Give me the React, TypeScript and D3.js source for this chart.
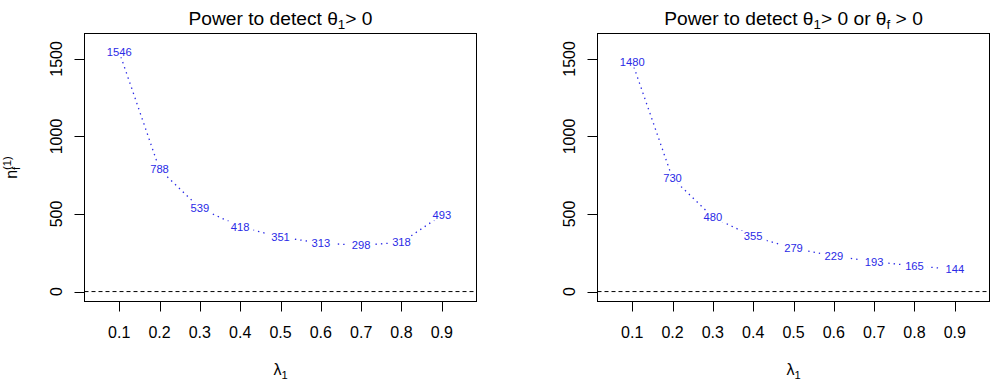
import React from 'react';
import * as d3 from 'd3';

const lambdas = [0.1, 0.2, 0.3, 0.4, 0.5, 0.6, 0.7, 0.8, 0.9];
const nTheta1 = [1546, 788, 539, 418, 351, 313, 298, 318, 493];
const nThetaAny = [1480, 730, 480, 355, 279, 229, 193, 165, 144];
const yTicks = [0, 500, 1000, 1500];

const W = 993;
const H = 388;
const FONT = '"Liberation Sans", Arial, sans-serif';
const BLUE = '#2a2ae6';
const PLOT_TOP = 33.5;
const PLOT_BOTTOM = 301.5;

// ylim = c(0, 1600), xlim = c(0.05, 0.95) with the usual 4% padding
const yScale = d3.scaleLinear().domain([-64, 1664]).range([PLOT_BOTTOM, PLOT_TOP]);

type PanelProps = {
  id: string;
  left: number;
  right: number;
  values: number[];
  title: React.ReactNode;
  yLabel?: boolean;
};

const Panel = ({ id, left, right, values, title, yLabel }: PanelProps) => {
  const xScale = d3.scaleLinear().domain([0.014, 0.986]).range([left, right]);
  const cx = (left + right) / 2;
  const pts = lambdas.map((l, i) => ({ x: xScale(l), y: yScale(values[i]), v: values[i] }));
  const line = d3.line<{ x: number; y: number }>().x((d) => d.x).y((d) => d.y);
  const labelSize = 11.2;

  return (
    <g>
      <defs>
        {/* leave gaps in the dotted line around each value label */}
        <mask id={`gap-${id}`} maskUnits="userSpaceOnUse" x={0} y={0} width={W} height={H}>
          <rect x={0} y={0} width={W} height={H} fill="white" />
          {pts.map((p, i) => {
            const hw = (String(p.v).length * 0.556 * labelSize) / 2 + 4;
            return <rect key={i} x={p.x - hw} y={p.y - 5.5} width={hw * 2} height={11} fill="black" />;
          })}
        </mask>
      </defs>

      {/* reference line at zero */}
      <line x1={left} x2={right} y1={yScale(0)} y2={yScale(0)} stroke="#000" strokeDasharray="4 3" />

      <path d={line(pts) ?? ''} fill="none" stroke={BLUE} strokeWidth={1.3} strokeDasharray="1.4 4" mask={`url(#gap-${id})`} />
      {pts.map((p, i) => (
        <text key={i} x={p.x} y={p.y} dy="0.35em" textAnchor="middle" fontSize={labelSize} fill={BLUE}>
          {p.v}
        </text>
      ))}

      {/* box */}
      <rect x={left} y={PLOT_TOP} width={right - left} height={PLOT_BOTTOM - PLOT_TOP} fill="none" stroke="#000" />

      {/* x axis */}
      {lambdas.map((t) => (
        <g key={t}>
          <line x1={Math.round(xScale(t)) + 0.5} x2={Math.round(xScale(t)) + 0.5} y1={PLOT_BOTTOM} y2={PLOT_BOTTOM + 10} stroke="#000" />
          <text x={xScale(t)} y={338.3} textAnchor="middle" fontSize={16} fill="#000">
            {t.toFixed(1)}
          </text>
        </g>
      ))}

      {/* y axis */}
      {yTicks.map((t) => (
        <g key={t}>
          <line x1={left - 10} x2={left} y1={Math.round(yScale(t)) + 0.5} y2={Math.round(yScale(t)) + 0.5} stroke="#000" />
          <text
            transform={`translate(${left - 22.6},${yScale(t)}) rotate(-90)`}
            textAnchor="middle"
            fontSize={16}
            fill="#000"
          >
            {t}
          </text>
        </g>
      ))}

      <text x={cx} y={24.5} textAnchor="middle" fontSize={19.2} fill="#000">
        {title}
      </text>

      <text x={cx} y={375} textAnchor="middle" fontSize={16} fill="#000">
        λ<tspan fontSize={11.2} dy={4}>1</tspan>
      </text>

      {yLabel && (
        <text transform={`translate(16.5,${(PLOT_TOP + PLOT_BOTTOM) / 2}) rotate(-90)`} fontSize={16} fill="#000">
          <tspan x={-11.3}>n</tspan>
          <tspan x={-2.4} dy={3.5} fontSize={11.2}>f</tspan>
          <tspan x={-2.4} dy={-9.5} fontSize={11.2}>(1)</tspan>
        </text>
      )}
    </g>
  );
};

const App = () => (
  <div style={{ position: 'absolute', left: 0, top: 0 }}>
    <svg width={W} height={H} style={{ display: 'block', background: '#fff', fontFamily: FONT }}>
      <Panel
        id="a"
        left={84.5}
        right={476.5}
        values={nTheta1}
        yLabel
        title={
          <>
            Power to detect θ<tspan fontSize={13.4} dy={4}>1</tspan>
            <tspan dy={-4}>&gt; 0</tspan>
          </>
        }
      />
      <Panel
        id="b"
        left={597.5}
        right={989.5}
        values={nThetaAny}
        title={
          <>
            Power to detect θ<tspan fontSize={13.4} dy={4}>1</tspan>
            <tspan dy={-4}>&gt; 0 or θ</tspan>
            <tspan fontSize={13.4} dy={4}>f</tspan>
            <tspan dy={-4}> &gt; 0</tspan>
          </>
        }
      />
    </svg>
  </div>
);

export default App;
